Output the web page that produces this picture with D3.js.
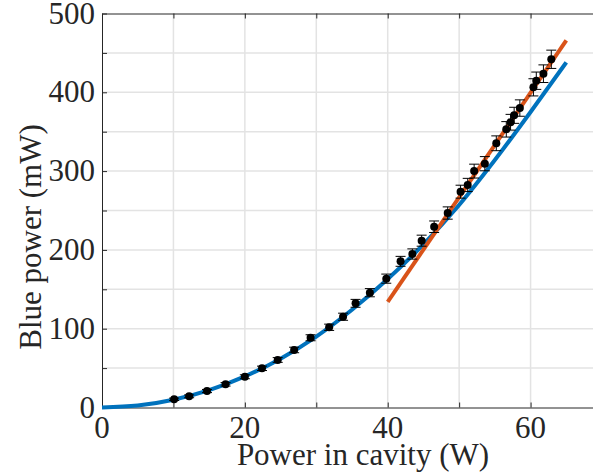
<!DOCTYPE html>
<html lang="en">
<head>
  <meta charset="UTF-8">
  <title>Blue power</title>
  <style>
    body { margin: 0; background: #fff; }
    svg text { font-family: "Liberation Serif", "Times New Roman", serif; fill: #262626; }
  </style>
</head>
<body>
<script src="https://d3js.org/d3.v7.min.js"></script>
<script>
  // measured points: power in cavity (W), blue power (mW), error bar (mW)
  const power = [10.1, 12.2, 14.7, 17.3, 20.0, 22.4, 24.6, 26.9, 29.2, 31.8, 33.75, 35.5, 37.5, 39.8, 41.8, 43.45,
                 44.75, 46.5, 48.4, 50.2, 51.2, 52.1, 53.6, 55.2, 56.6, 57.2, 57.7, 58.5, 60.4, 60.8, 61.8, 62.9];
  const blue = [10.4, 14.2, 20.9, 29.4, 39.0, 49.7, 60.3, 73, 88.5, 101.8, 115.2, 132.2, 145.7, 163.5, 185.5, 194.8,
                211.7, 229.4, 246.8, 273.9, 282.4, 300, 309.4, 335.3, 353, 362, 370.8, 380, 406.3, 414.7, 423.6, 441.9];
  const err = [1.5, 1.8, 2, 2.2, 2.5, 2.8, 3, 3.5, 3.8, 4, 4.5, 5, 5.2, 5.8, 6.3, 6.5,
               7, 7.3, 7.8, 8.2, 8.4, 8.8, 9, 9.4, 9.8, 10, 10.2, 10.4, 10.9, 11, 11.2, 11.6];

  // model curve (blue) and high-power linear fit (orange)
  const modelP = [0, 5, 10, 15, 20, 25, 30, 35, 40, 45, 50, 55, 60, 65];
  const modelB = [0, 2.4, 9.8, 22, 39.5, 62, 90, 124, 163, 207, 257, 314, 375, 438];
  const fitP = [40, 65];
  const fitB = [134, 466];

  const xTickLabels = [0, 20, 40, 60];
  const yTickLabels = [0, 100, 200, 300, 400, 500];

  const width = 593, height = 474;
  const mLeft = 102, mRight = 602, mTop = 13.5, mBottom = 407.5;

  const svg = d3.select("body").append("svg")
      .attr("width", width)
      .attr("height", height);

  const x = d3.scaleLinear().domain([0, 70]).range([mLeft, mRight]);
  const y = d3.scaleLinear().domain([0, 500]).range([mBottom, mTop]);

  // grid
  const grid = svg.append("g").attr("stroke", "#e3e3e3").attr("stroke-width", 1.5);
  grid.selectAll(".gx").data(d3.range(10, 70, 10)).join("line")
      .attr("x1", d => x(d)).attr("x2", d => x(d))
      .attr("y1", mTop).attr("y2", mBottom);
  grid.selectAll(".gy").data(d3.range(50, 500, 50)).join("line")
      .attr("x1", mLeft).attr("x2", mRight)
      .attr("y1", d => y(d)).attr("y2", d => y(d));

  // axes (ticks pointing inward)
  svg.append("g")
      .attr("transform", `translate(0,${mBottom})`)
      .call(d3.axisBottom(x).tickValues(d3.range(0, 71, 10)).tickSizeInner(-5).tickSizeOuter(0).tickFormat(""))
      .call(g => g.selectAll("line,path").attr("stroke", "#262626"));
  svg.append("g")
      .attr("transform", `translate(0,${mTop})`)
      .call(d3.axisTop(x).tickValues(d3.range(0, 71, 10)).tickSizeInner(-5).tickSizeOuter(0).tickFormat(""))
      .call(g => g.selectAll("line,path").attr("stroke", "#262626"));
  svg.append("g")
      .attr("transform", `translate(${mLeft},0)`)
      .call(d3.axisLeft(y).tickValues(d3.range(0, 501, 50)).tickSizeInner(-5).tickSizeOuter(0).tickFormat(""))
      .call(g => g.selectAll("line,path").attr("stroke", "#262626"));

  // tick labels
  svg.append("g").selectAll("text").data(xTickLabels).join("text")
      .attr("x", d => x(d)).attr("y", 438)
      .attr("text-anchor", "middle")
      .attr("font-size", 31)
      .text(d => d);
  svg.append("g").selectAll("text").data(yTickLabels).join("text")
      .attr("x", 95).attr("y", d => y(d) + 10)
      .attr("text-anchor", "end")
      .attr("font-size", 31)
      .text(d => d);

  // axis titles
  svg.append("text")
      .attr("x", 363).attr("y", 465)
      .attr("text-anchor", "middle")
      .attr("font-size", 31)
      .text("Power in cavity (W)");
  svg.append("text")
      .attr("transform", "translate(41,237) rotate(-90)")
      .attr("text-anchor", "middle")
      .attr("font-size", 31)
      .text("Blue power (mW)");

  // curves
  const line = d3.line().x(d => x(d[0])).y(d => y(d[1]));
  svg.append("path")
      .datum(d3.zip(modelP, modelB))
      .attr("fill", "none")
      .attr("stroke", "#0072BD")
      .attr("stroke-width", 4)
      .attr("d", line.curve(d3.curveMonotoneX));
  svg.append("path")
      .datum(d3.zip(fitP, fitB))
      .attr("fill", "none")
      .attr("stroke", "#D95319")
      .attr("stroke-width", 4)
      .attr("d", d3.line().x(d => x(d[0])).y(d => y(d[1])));

  // error bars + markers
  const pts = power.map((p, i) => ({p: p, b: blue[i], e: err[i]}));
  const eb = svg.append("g").attr("stroke", "#000").attr("stroke-width", 1);
  eb.selectAll(".v").data(pts).join("line")
      .attr("x1", d => x(d.p)).attr("x2", d => x(d.p))
      .attr("y1", d => y(d.b - d.e)).attr("y2", d => y(d.b + d.e));
  eb.selectAll(".t").data(pts).join("line")
      .attr("x1", d => x(d.p) - 5).attr("x2", d => x(d.p) + 5)
      .attr("y1", d => y(d.b + d.e)).attr("y2", d => y(d.b + d.e));
  eb.selectAll(".b").data(pts).join("line")
      .attr("x1", d => x(d.p) - 5).attr("x2", d => x(d.p) + 5)
      .attr("y1", d => y(d.b - d.e)).attr("y2", d => y(d.b - d.e));
  svg.append("g").selectAll("circle").data(pts).join("circle")
      .attr("cx", d => x(d.p)).attr("cy", d => y(d.b))
      .attr("r", 4)
      .attr("fill", "#000");
</script>
</body>
</html>
